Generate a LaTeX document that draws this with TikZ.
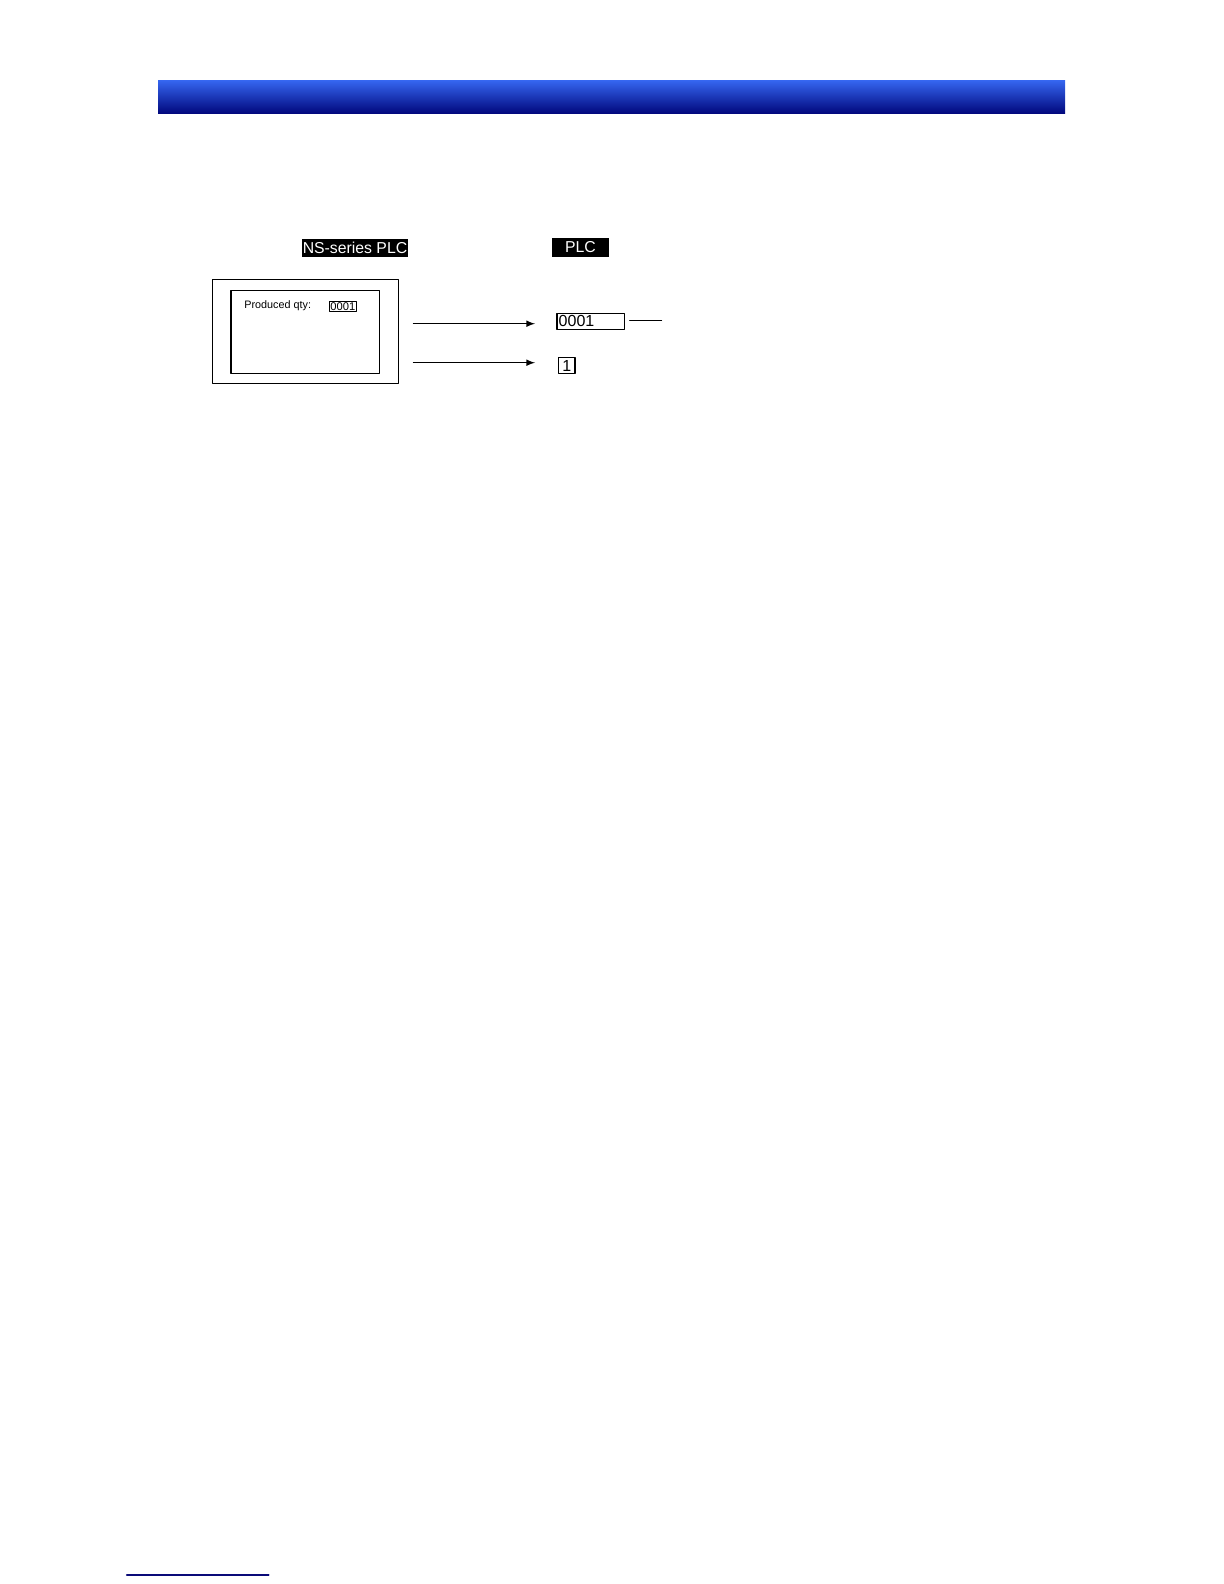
\documentclass[tikz,border=0pt]{standalone}
\usepackage{fontspec}
\setmainfont{Liberation Sans}
\usetikzlibrary{arrows}
\definecolor{barTop}{RGB}{52,100,238}
\definecolor{barBottom}{RGB}{0,6,122}
\definecolor{footLine}{RGB}{10,10,120}

\begin{document}
\begin{tikzpicture}[line cap=round,line join=round,>=latex,x=0.5pt,y=-0.5pt,
    darklabel/.style={fill=black,text=white,inner sep=0pt,font=\fontsize{7.9}{10}\selectfont},
    framebox/.style={draw,inner sep=0pt},
    valbox/.style={draw,line width=0.6pt,inner sep=0pt,font=\fontsize{8}{10}\selectfont}]
                \useasboundingbox (0,0) rectangle (1224,1584);
                % heading bar
                \shade[top color=barTop,bottom color=barBottom] (158,81) rectangle (1065,114);
                % labels
                \node[darklabel,minimum width=53pt,minimum height=9pt] (nslabel) at (355,248) {NS-series PLC};
                \node[darklabel,minimum width=28.5pt,minimum height=9.5pt] (plclabel) at (580.5,247.2) {PLC};
                % screen
                \node[framebox,line width=0.5pt,minimum width=92.7pt,minimum height=52pt] (screen) at (305.3,331) {};
                \node[framebox,line width=0.7pt,minimum width=74.2pt,minimum height=41.7pt] (panel) at (305.2,332) {};
                \node[anchor=west,inner sep=0pt,font=\fontsize{5.4}{6}\selectfont] (qtytext) at (244,305.5) {Produced qty:};
                \node[framebox,line width=0.4pt,minimum width=13.9pt,minimum height=5pt,font=\fontsize{5.6}{6}\selectfont] (qtybox) at (342.8,306.7) {0001};
                % PLC side
                \node[valbox,minimum width=33.7pt,minimum height=8pt,text width=32pt,align=left] (word) at (590.7,321.3) {0001};
                \node[valbox,minimum width=8.3pt,minimum height=8pt] (bit) at (566.7,365.7) {1};
                \coordinate (tagend) at (661.7,320.7);
                \draw[line width=0.4pt] ([xshift=2.3pt]word.east |- tagend) -- (tagend);
                % arrows
                \coordinate (wordstart) at (413.3,323.7);
                \coordinate (wordend) at (535,323.7);
                \coordinate (bitstart) at (413.3,362.7);
                \coordinate (bitend) at (535,362.7);
                \draw[->,line width=0.5pt] (wordstart) -- (wordend);
                \draw[->,line width=0.5pt] (bitstart) -- (bitend);
                % footer rule
                \draw[footLine,line width=0.8pt] (126.7,1575) -- (268.7,1575);
                \end{tikzpicture}
\end{document}
